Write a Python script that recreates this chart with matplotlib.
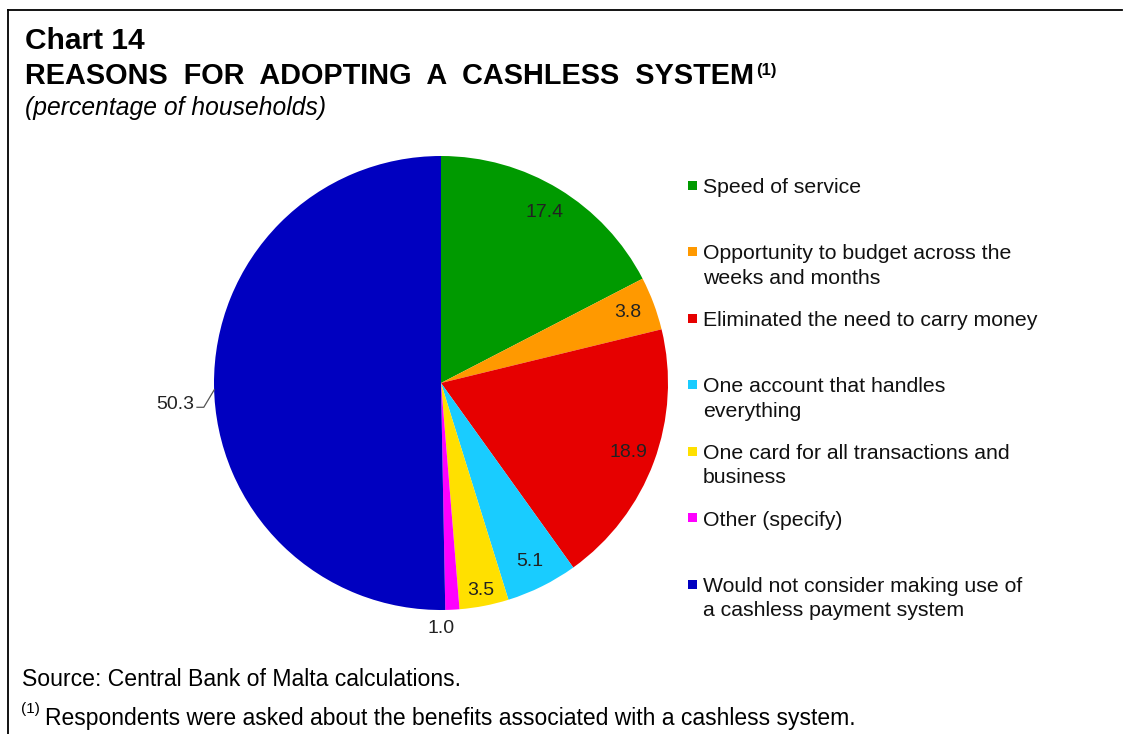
import numpy as np
import matplotlib.pyplot as plt
from matplotlib.patches import Rectangle
from matplotlib.lines import Line2D

plt.rcParams['font.family'] = ['Liberation Sans', 'DejaVu Sans']

# data
categories = ["Speed of service",
              "Opportunity to budget across the\nweeks and months",
              "Eliminated the need to carry money",
              "One account that handles\neverything",
              "One card for all transactions and\nbusiness",
              "Other (specify)",
              "Would not consider making use of\na cashless payment system"]
values = [17.4, 3.8, 18.9, 5.1, 3.5, 1.0, 50.3]
colors = ['#009A00', '#FF9900', '#E60000', '#19CCFF', '#FFE000', '#FF00FF', '#0000C0']

W, H = 1123, 734
fig = plt.figure(figsize=(W / 100, H / 100), dpi=100)

def fx(px):
    return px / W

def fy(py):
    return 1 - py / H

# pie axes: centre (441, 383), radius 227 px
cx, cy, r = 441, 383, 227
ax = fig.add_axes([fx(cx - r), fy(cy + r), 2 * r / W, 2 * r / H])
wedges, _ = ax.pie(values, colors=colors, startangle=90, counterclock=False,
                   radius=1.0, wedgeprops=dict(linewidth=0))
ax.set_xlim(-1, 1)
ax.set_ylim(-1, 1)
ax.set_aspect('auto')
ax.axis('off')

# value labels
lab_kw = dict(va='center', fontsize=14, color='#222222')
for w, v in zip(wedges, values):
    ang = np.deg2rad((w.theta1 + w.theta2) / 2)
    txt = f"{v:.1f}"
    if v == 1.0:
        ax.text(0.0, -1.08, txt, ha='center', **lab_kw)
    elif v == 50.3:
        ax.text(-1.085, -0.095, txt, ha='right', **lab_kw)
        ax.plot([-1.075, -1.045, -0.999], [-0.107, -0.107, -0.03], color='#555555',
                lw=0.9, clip_on=False)
    else:
        d = 0.93 if v == 3.5 else 0.88
        ax.text(d * np.cos(ang), d * np.sin(ang), txt, ha='center', **lab_kw)

# legend, drawn by hand to get the top-aligned slots
for i, (lab, w) in enumerate(zip(categories, wedges)):
    yc = 185 + 66.5 * i
    fig.add_artist(Rectangle((fx(688), fy(yc + 4.5)), 9 / W, 9 / H,
                             transform=fig.transFigure, color=w.get_facecolor(), lw=0))
    fig.text(fx(703), fy(yc - 7), lab, ha='left', va='top', fontsize=15.3,
             linespacing=1.35, color='#111111')

# titles
fig.text(fx(25), fy(41), "Chart 14", fontsize=21.5, fontweight='bold', va='center')
t = fig.text(fx(25), fy(76), "REASONS  FOR  ADOPTING  A  CASHLESS  SYSTEM",
             fontsize=20.8, fontweight='bold', va='center')
fig.canvas.draw()
bb = t.get_window_extent()
fig.text((bb.x1 + 2) / W, fy(70), "(1)", fontsize=12, fontweight='bold', va='center')
fig.text(fx(25), fy(108), "(percentage of households)", fontsize=17.7, style='italic', va='center')

# notes
fig.text(fx(22), fy(680), "Source: Central Bank of Malta calculations.", fontsize=16.6, va='center')
fig.text(fx(21), fy(709), "(1)", fontsize=11, va='center')
fig.text(fx(45), fy(718), "Respondents were asked about the benefits associated with a cashless system.",
         fontsize=16.5, va='center')

# frame, top and left only
fig.add_artist(Line2D([fx(8), fx(1122)], [fy(10), fy(10)], color='black', lw=1.3,
                      transform=fig.transFigure))
fig.add_artist(Line2D([fx(8), fx(8)], [fy(10), 0], color='black', lw=1.3,
                      transform=fig.transFigure))

fig.savefig('out.png', dpi=100)
